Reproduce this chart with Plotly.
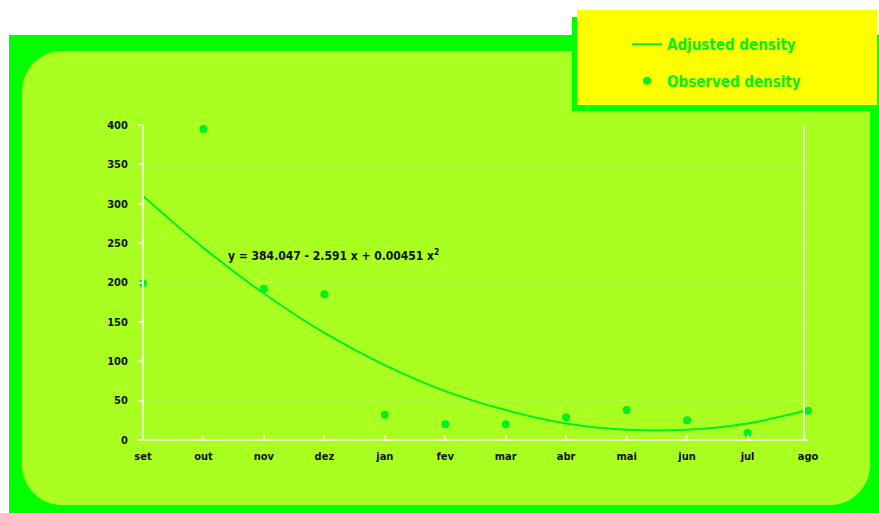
import plotly.graph_objects as go

months = ["set", "out", "nov", "dez", "jan", "fev", "mar", "abr", "mai", "jun", "jul", "ago"]
observed = [199, 395, 192, 185, 32, 20, 20, 29, 38, 25, 9, 37]
adjusted = [310, 244, 186, 136, 95, 62, 38, 21, 13, 13, 21, 38]
y_ticks = [0, 50, 100, 150, 200, 250, 300, 350, 400]
equation = "y = 384.047 - 2.591 x + 0.00451 x<sup>2</sup>"

W, H = 879, 513
L, R, T, B = 143, 808, 125, 440

def px(x):
    return (x - L) / (R - L)

def py(y):
    return (B - y) / (B - T)

def rounded_path(x0, y0, x1, y1, r):
    def P(x, y):
        return f"{px(x):.5f},{py(y):.5f}"
    k = 0.5523 * r
    return (
        f"M {P(x0 + r, y0)} L {P(x1 - r, y0)} "
        f"C {P(x1 - r + k, y0)} {P(x1, y0 + r - k)} {P(x1, y0 + r)} "
        f"L {P(x1, y1 - r)} "
        f"C {P(x1, y1 - r + k)} {P(x1 - r + k, y1)} {P(x1 - r, y1)} "
        f"L {P(x0 + r, y1)} "
        f"C {P(x0 + r - k, y1)} {P(x0, y1 - r + k)} {P(x0, y1 - r)} "
        f"L {P(x0, y0 + r)} "
        f"C {P(x0, y0 + r - k)} {P(x0 + r - k, y0)} {P(x0 + r, y0)} Z"
    )

GREEN = "#00FF00"
LIME = "#A8FF20"
YELLOW = "#FFFF00"
LINEC = "#00F020"
AXC = "#F0FFC8"
FONT = "DejaVu Sans Condensed, Liberation Sans Narrow, Arial Narrow, DejaVu Sans, sans-serif"

shapes = [
    dict(type="rect", xref="paper", yref="paper", x0=px(9), x1=px(880), y0=py(35), y1=py(514),
         fillcolor=GREEN, line=dict(width=0), layer="below"),
    dict(type="path", xref="paper", yref="paper", path=rounded_path(22, 51, 870, 505, 40),
         fillcolor=LIME, line=dict(width=0), layer="below"),
    dict(type="rect", xref="paper", yref="paper", x0=px(572), x1=px(872), y0=py(17), y1=py(111),
         fillcolor=GREEN, line=dict(width=0), layer="above"),
    dict(type="rect", xref="paper", yref="paper", x0=px(577), x1=px(877), y0=py(10), y1=py(105),
         fillcolor=YELLOW, line=dict(width=0), layer="above"),
]

fig = go.Figure()
fig.add_trace(go.Scatter(
    x=months, y=adjusted, mode="lines", name="Adjusted density",
    line=dict(color=LINEC, width=2, shape="spline", smoothing=1.0),
    legendgroup="a", cliponaxis=False,
))
fig.add_trace(go.Scatter(
    x=months, y=observed, mode="markers", name="Observed density",
    marker=dict(color=LINEC, size=8),
    legendgroup="b", cliponaxis=False,
))

fig.add_annotation(
    x=3.15, y=235, xref="x", yref="y", text=equation, showarrow=False,
    font=dict(family=FONT, size=12, color="#111111", weight="bold"),
)

fig.update_layout(
    width=W, height=H,
    margin=dict(l=L, r=W - R, t=T, b=H - B),
    paper_bgcolor="white",
    plot_bgcolor="rgba(0,0,0,0)",
    shapes=shapes,
    showlegend=True,
    legend=dict(
        x=px(627), y=py(28), xanchor="left", yanchor="top",
        bgcolor="rgba(0,0,0,0)", borderwidth=0,
        font=dict(family=FONT, size=15, color=LINEC, weight="bold"),
        tracegroupgap=14, itemwidth=30,
    ),
    xaxis=dict(
        range=[0, 11], showgrid=False, zeroline=False,
        showline=False, ticks="inside", ticklen=5, tickcolor=AXC, tickwidth=1.5,
        tickfont=dict(family=FONT, size=11, color="#111111", weight="bold"),
        ticklabelstandoff=8,
    ),
    yaxis=dict(
        range=[0, 400], tickvals=y_ticks, showgrid=True, gridcolor="rgba(255,255,255,0.12)",
        zeroline=False, showline=False, ticks="outside", ticklen=4, tickcolor=AXC,
        tickwidth=1.5,
        tickfont=dict(family=FONT, size=11, color="#111111", weight="bold"),
        ticklabelstandoff=8,
    ),
)

fig.add_shape(type="line", xref="paper", yref="paper", x0=0, x1=0, y0=0, y1=1,
              line=dict(color=AXC, width=2))
fig.add_shape(type="line", xref="paper", yref="paper", x0=0, x1=1, y0=0, y1=0,
              line=dict(color=AXC, width=2))
fig.add_shape(type="line", xref="paper", yref="paper", x0=px(804), x1=px(804), y0=0, y1=1,
              line=dict(color=AXC, width=2))

fig.write_html(
    "out.html",
    config={"displayModeBar": False},
    post_script="document.body.style.margin='0';document.body.style.overflow='hidden';",
)
